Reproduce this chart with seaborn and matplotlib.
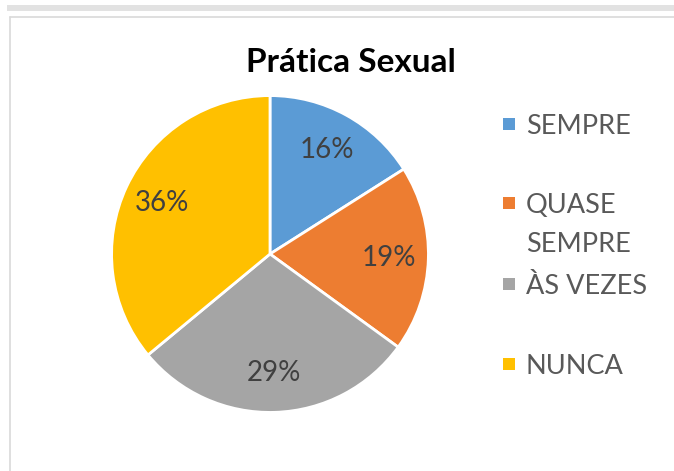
import matplotlib
matplotlib.use('Agg')
import matplotlib.pyplot as plt
import seaborn as sns
from matplotlib.patches import Rectangle
from matplotlib.lines import Line2D

categories = ['SEMPRE', 'QUASE\nSEMPRE', 'ÀS VEZES', 'NUNCA']
values = [16, 19, 29, 36]
colors = ['#5B9BD5', '#ED7D31', '#A5A5A5', '#FFC000']

sns.set_theme(style='white')
plt.rcParams['font.family'] = ['Lato', 'DejaVu Sans']

fig = plt.figure(figsize=(6.74, 4.71), dpi=100)
W, H = 674, 471

# outer decoration (top grey strip + chart frame)
fig.patches.append(Rectangle((7 / W, 1 - 11 / H), 1, 6 / H, transform=fig.transFigure,
                             color='#E2E2E2', lw=0))
fig.lines.append(Line2D([10 / W, 10 / W], [0, 1 - 17 / H], transform=fig.transFigure,
                        color='#D9D9D9', lw=1.2))
fig.lines.append(Line2D([10 / W, 1], [1 - 17 / H, 1 - 17 / H], transform=fig.transFigure,
                        color='#D9D9D9', lw=1.2))

ax = fig.add_axes([110 / W, 1 - 414 / H, 320 / W, 320 / H])
wedges, texts, autotexts = ax.pie(
    values, colors=colors, startangle=90, counterclock=False,
    autopct='%1.0f%%', pctdistance=0.75,
    wedgeprops={'edgecolor': 'white', 'linewidth': 2},
    textprops={'fontsize': 20, 'color': '#404040'}
)
ax.set_xlim(-1.01, 1.01)
ax.set_ylim(-1.01, 1.01)
ax.set_aspect('equal')

fig.text(351 / W, 1 - 62 / H, 'Prática Sexual', ha='center', va='center',
         fontsize=24, fontweight='bold', color='black')

# legend
legend_y = [124, 203, 284, 364]
for lab, col, y in zip(categories, colors, legend_y):
    fig.patches.append(Rectangle((503 / W, 1 - (y + 6) / H), 12 / W, 12 / H,
                                 transform=fig.transFigure, color=col, lw=0))
    for i, line in enumerate(lab.split('\n')):
        fig.text(526 / W, 1 - (y + 10 + 39 * i) / H, line, ha='left', va='baseline',
                 fontsize=19.5, color='#595959')

fig.savefig('out.png', dpi=100)
